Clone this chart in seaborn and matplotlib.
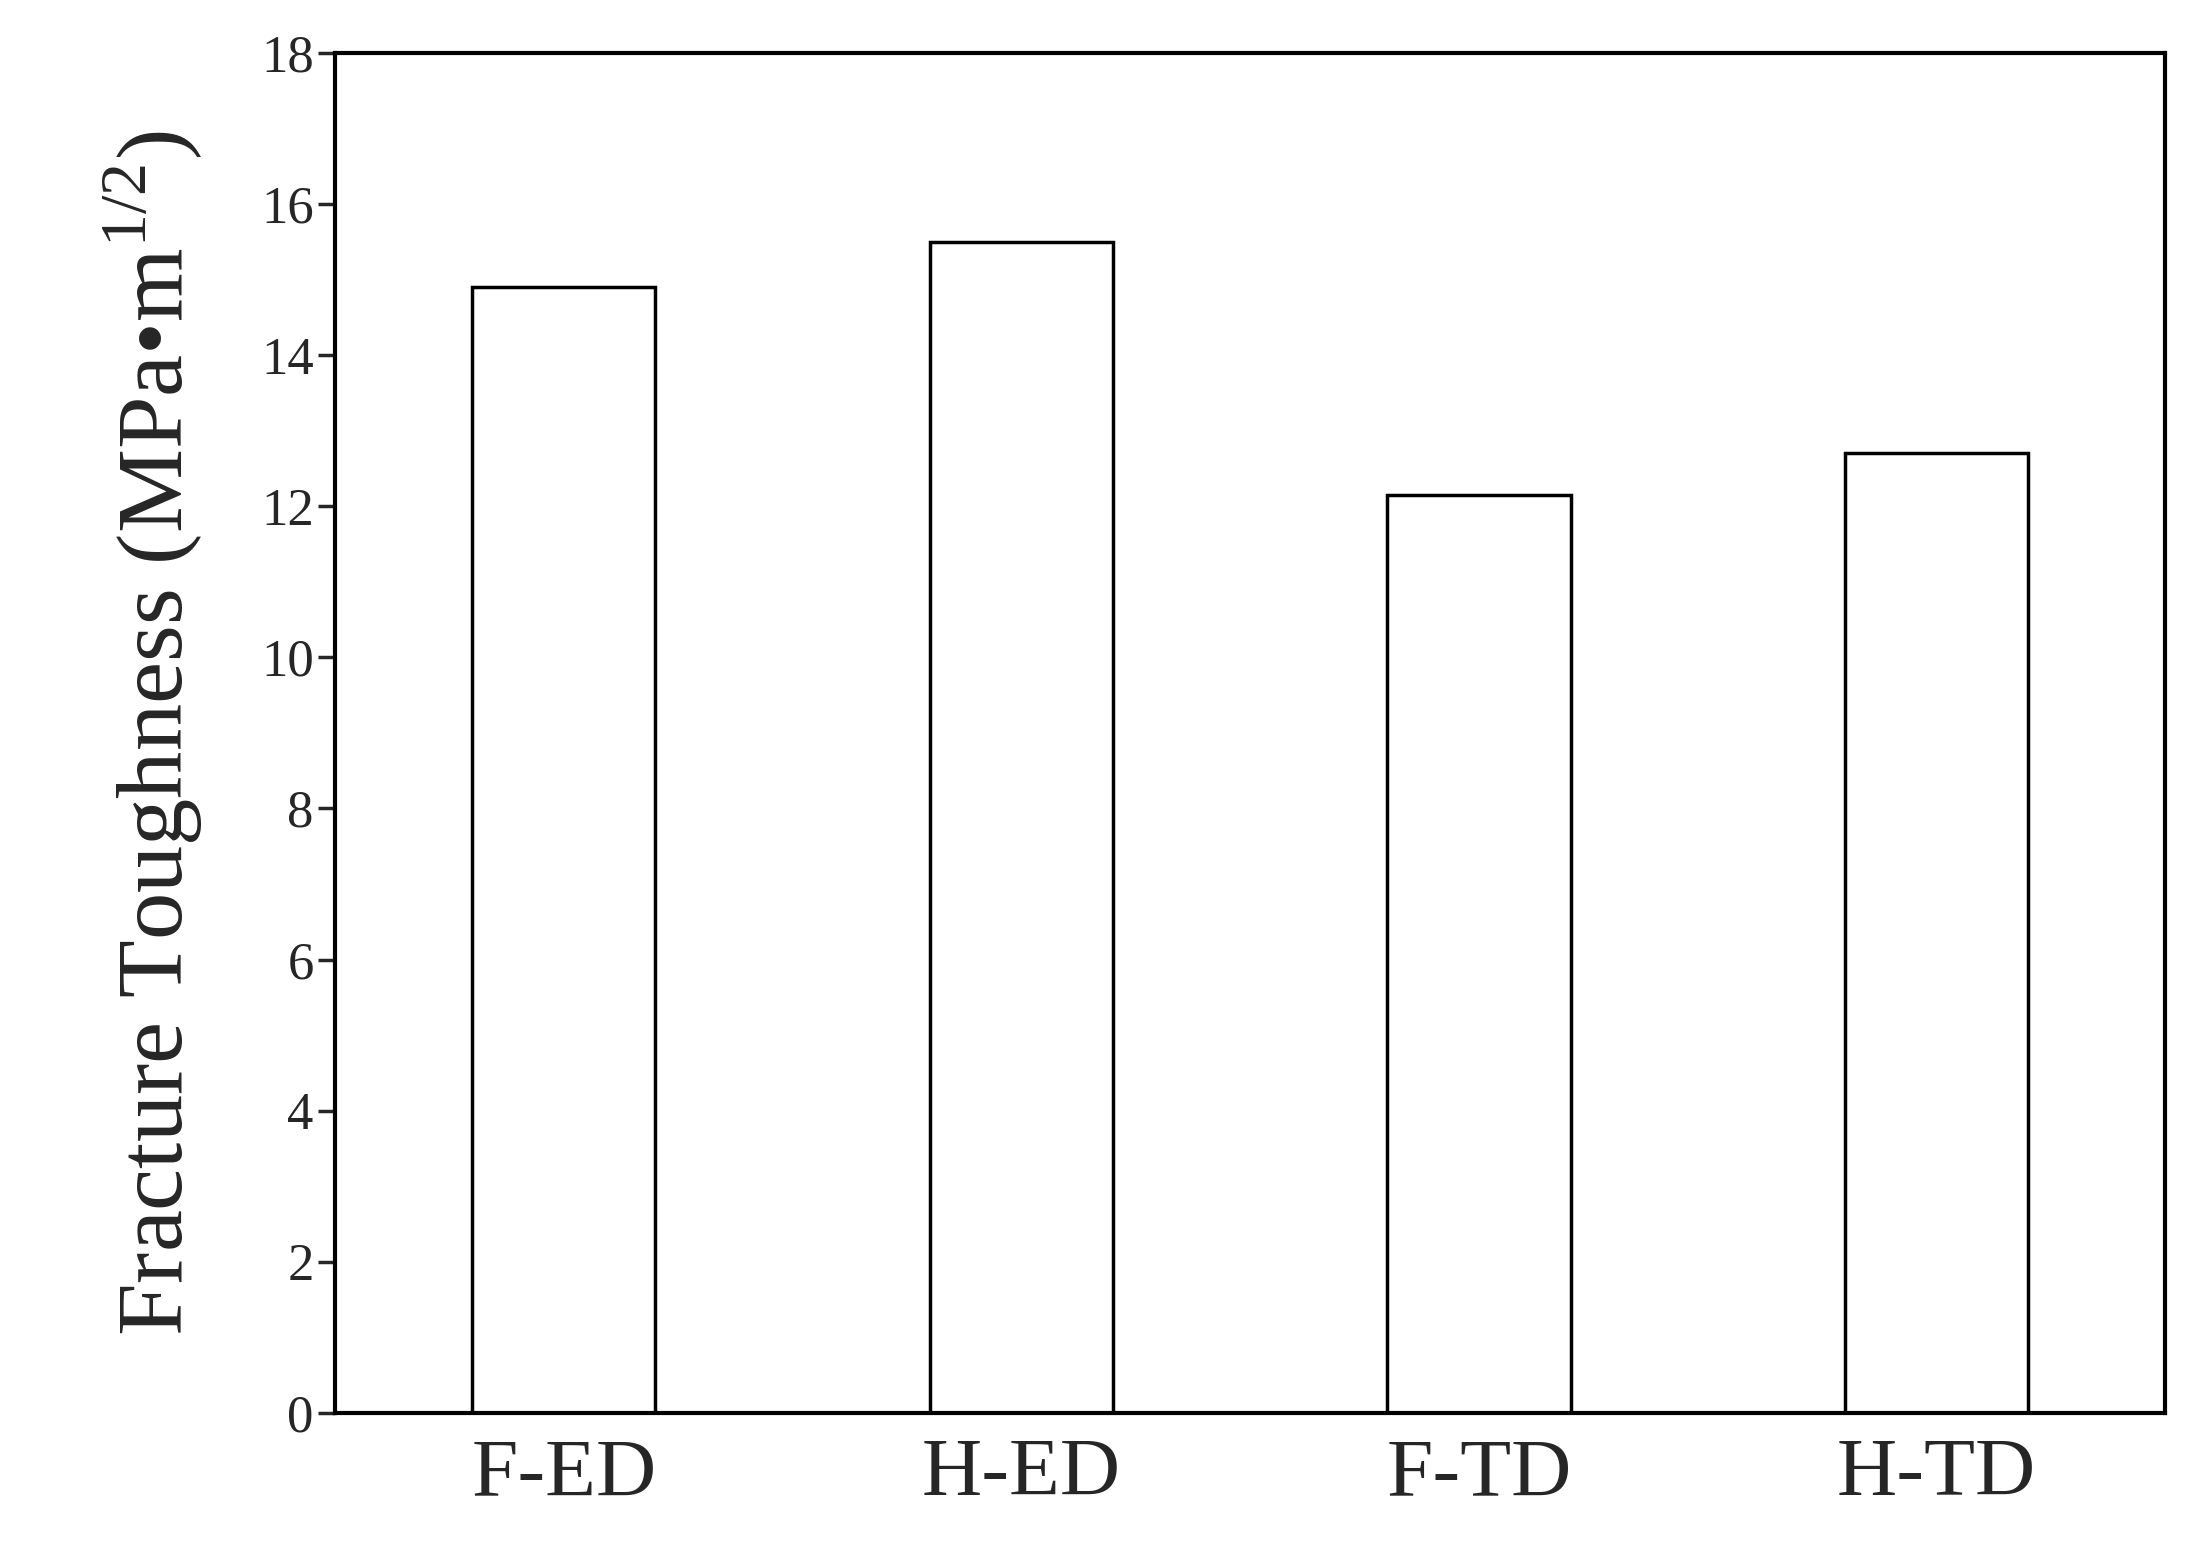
import matplotlib
matplotlib.use("Agg")
import matplotlib.pyplot as plt
import seaborn as sns
import pandas as pd

sns.set_theme(style="white")
plt.rcParams['font.family'] = ['Liberation Serif', 'DejaVu Serif']
plt.rcParams['mathtext.fontset'] = 'custom'
plt.rcParams['mathtext.rm'] = 'Liberation Serif'

categories = ["F-ED", "H-ED", "F-TD", "H-TD"]
toughness = [14.9, 15.5, 12.15, 12.7]
df = pd.DataFrame({"cat": categories, "val": toughness})

fig = plt.figure(figsize=(22.05, 15.51), dpi=100)
ax = fig.add_axes([0.152, 0.089, 0.830, 0.877])
sns.barplot(data=df, x="cat", y="val", ax=ax, color="white", edgecolor="black",
            linewidth=2.5, width=0.4, saturation=1)

ax.set_xlim(-0.5, 3.5)
ax.set_ylim(0, 18)
ax.set_yticks(range(0, 19, 2))
ax.set_xlabel("")
ax.set_ylabel("Fracture Toughness (MPa\u2022m$^{\\mathrm{1/2}}$)", fontsize=68, labelpad=40)
ax.tick_params(axis="y", direction="out", length=12, width=2.5, labelsize=38, left=True)
ax.tick_params(axis="x", length=0, labelsize=60, pad=18)
for s in ax.spines.values():
    s.set_linewidth(3)
    s.set_color("black")

fig.savefig("out.png", dpi=100)
